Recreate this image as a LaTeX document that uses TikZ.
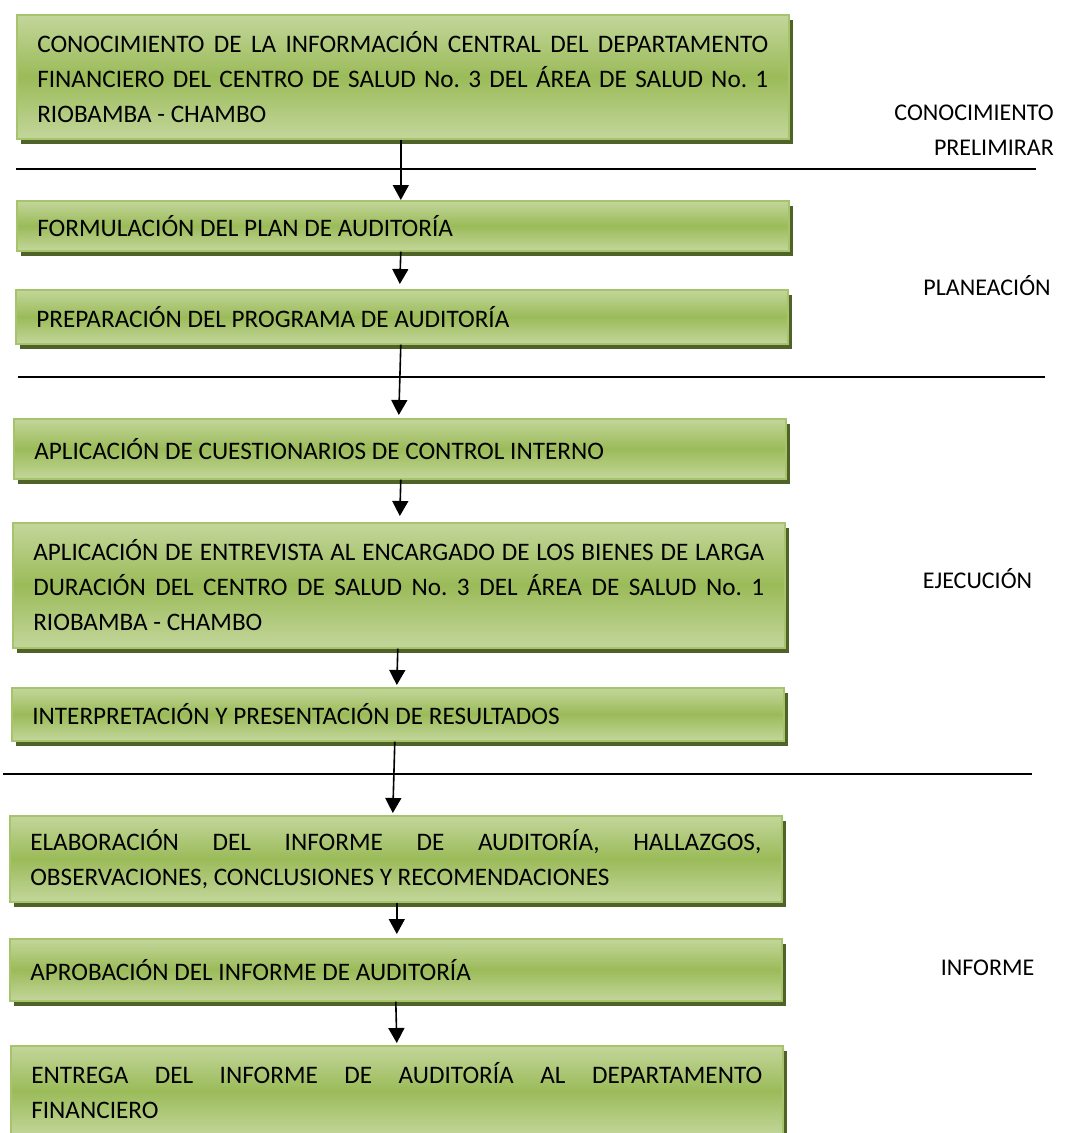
\documentclass[tikz,border=0pt]{standalone}
\usepackage{fontspec}
\setmainfont{Carlito}
\usetikzlibrary{arrows.meta,shadows}

\definecolor{boxlight}{HTML}{C3D69B}
\definecolor{boxmid}{HTML}{9BBB59}
\definecolor{boxedge}{HTML}{A6C46C}
\definecolor{boxshadow}{HTML}{4F6228}

% natural word spacing of the font
\newcommand{\natsp}{\spaceskip=0pt\xspaceskip=0pt\frenchspacing}
% one justified line of a box
\newcommand{\jline}[1]{\makebox[731pt][s]{#1}}

\tikzset{
  stepbox/.style={
    rectangle, anchor=north west,
    draw=boxedge, line width=1.6pt,
    shading=axis, top color=boxlight, bottom color=boxlight, middle color=boxmid,
    general shadow={fill=boxshadow, shadow xshift=4pt, shadow yshift=-5pt},
    minimum width=772pt, text width=731pt, inner xsep=20.5pt, inner ysep=0pt,
    align=left, font=\fontsize{25.2}{35}\selectfont,
    execute at begin node=\natsp
  },
  phase/.style={font=\fontsize{24}{35}\selectfont, inner sep=0pt,
    execute at begin node=\natsp},
  flow/.style={-{Triangle[width=16pt,length=15pt]}, line width=1.6pt},
  divider/.style={line width=1.4pt}
}

\begin{document}
\begin{tikzpicture}[x=1pt,y=-1pt]
\useasboundingbox (0,0) rectangle (1068,1133);

% process steps
\node[stepbox, minimum height=124pt] (b1) at (16,14)
  {\jline{CONOCIMIENTO DE LA INFORMACIÓN CENTRAL DEL DEPARTAMENTO}\\
   \jline{FINANCIERO DEL CENTRO DE SALUD No. 3 DEL ÁREA DE SALUD No. 1}\\
   RIOBAMBA - CHAMBO};
\node[stepbox, minimum height=50pt] (b2) at (16,200)
  {FORMULACIÓN DEL PLAN DE AUDITORÍA};
\node[stepbox, minimum height=54pt] (b3) at (15,289)
  {PREPARACIÓN DEL PROGRAMA DE AUDITORÍA};
\node[stepbox, minimum height=60pt] (b4) at (13,418)
  {APLICACIÓN DE CUESTIONARIOS DE CONTROL INTERNO};
\node[stepbox, minimum height=125pt] (b5) at (12,522)
  {\jline{APLICACIÓN DE ENTREVISTA AL ENCARGADO DE LOS BIENES DE LARGA}\\
   \jline{DURACIÓN DEL CENTRO DE SALUD No. 3 DEL ÁREA DE SALUD No. 1}\\
   RIOBAMBA - CHAMBO};
\node[stepbox, minimum height=53pt] (b6) at (11,687)
  {INTERPRETACIÓN Y PRESENTACIÓN DE RESULTADOS};
\node[stepbox, minimum height=86pt] (b7) at (9,815)
  {\jline{ELABORACIÓN DEL INFORME DE AUDITORÍA, HALLAZGOS,}\\
   OBSERVACIONES, CONCLUSIONES Y RECOMENDACIONES};
\node[stepbox, minimum height=62pt] (b8) at (9,938)
  {APROBACIÓN DEL INFORME DE AUDITORÍA};
\node[stepbox, minimum height=90pt] (b9) at (10,1045)
  {\jline{ENTREGA DEL INFORME DE AUDITORÍA AL DEPARTAMENTO}\\
   FINANCIERO};

% phase separators
\coordinate (l1a) at (16,169);  \coordinate (l1b) at (1036,169);
\coordinate (l2a) at (18,377);  \coordinate (l2b) at (1045,377);
\coordinate (l3a) at (3,774);   \coordinate (l3b) at (1032,774);
\draw[divider] (l1a) -- (l1b);
\draw[divider] (l2a) -- (l2b);
\draw[divider] (l3a) -- (l3b);

% phase names
\node[phase, anchor=east, align=right] (p1) at (1054,130) {CONOCIMIENTO\\PRELIMIRAR};
\node[phase] (p2) at (987,286) {PLANEACIÓN};
\node[phase] (p3) at (977.5,579) {EJECUCIÓN};
\node[phase] (p4) at (987.5,968) {INFORME};

% flow between steps
\draw[flow] ([xshift=-2pt]b1.south) -- ([xshift=-2pt]b2.north);
\draw[flow] ([xshift=-2pt]b2.south) -- ([xshift=-2pt,yshift=5pt]b3.north);
\draw[flow] ([xshift=-1pt]b3.south) -- ([xshift=-1pt,yshift=3pt]b4.north);
\draw[flow] ([xshift=1pt]b4.south) -- ([xshift=1pt,yshift=6pt]b5.north);
\draw[flow] ([xshift=-1pt]b5.south) -- ([xshift=-1pt,yshift=2pt]b6.north);
\draw[flow] ([xshift=-3pt]b6.south) -- ([xshift=-3pt,yshift=2pt]b7.north);
\draw[flow] ([xshift=1pt]b7.south) -- ([xshift=1pt,yshift=4pt]b8.north);
\draw[flow] ([xshift=0pt]b8.south) -- ([xshift=0pt,yshift=2pt]b9.north);
\end{tikzpicture}
\end{document}
